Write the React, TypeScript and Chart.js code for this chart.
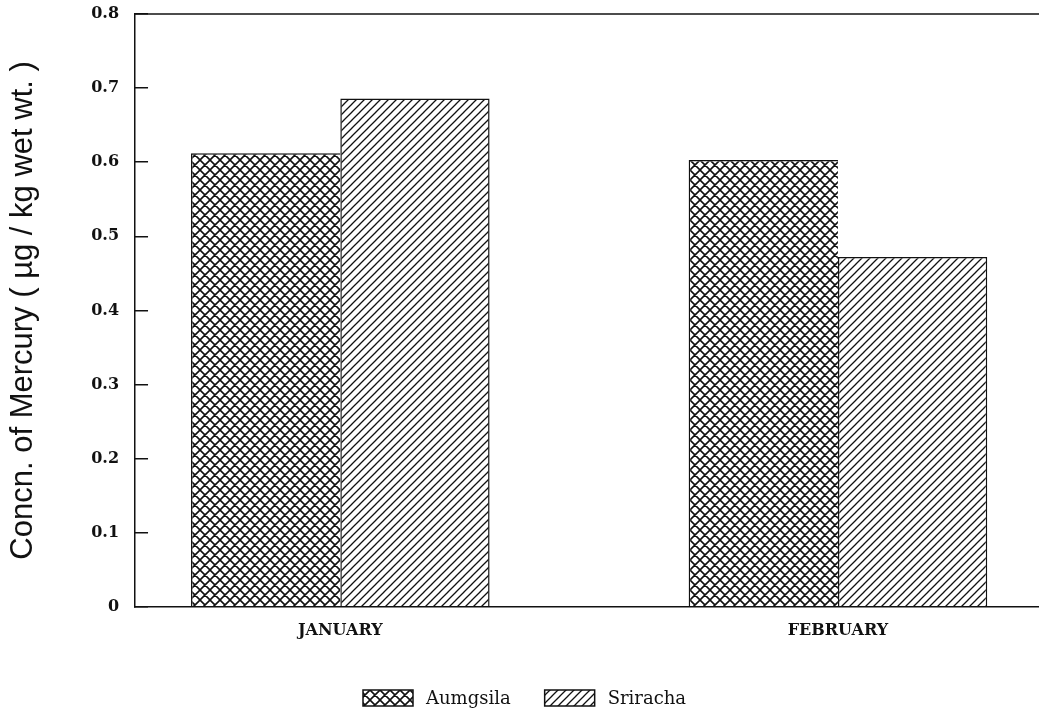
import React, { useEffect, useRef } from "react";
import { Chart, registerables } from "chart.js";

Chart.register(...registerables);

// ---- data ----
const MONTHS = ["JANUARY", "FEBRUARY"];
const SERIES_LABELS = ["Aumgsila", "Sriracha"];
const AUMGSILA = [0.612, 0.603];
const SRIRACHA = [0.686, 0.472];
const Y_MIN = 0;
const Y_MAX = 0.8;
const Y_STEP = 0.1;
const Y_TITLE = "Concn. of Mercury ( µg / kg wet wt. )";

// x-axis range (category positions 1 and 2)
const X_MIN = 0.5875;
const X_MAX = 2.404;

const INK = "#111";

function makePattern(kind: "cross" | "diag") {
  const T = kind === "cross" ? 10 : 8;
  const c = document.createElement("canvas");
  c.width = T;
  c.height = T;
  const g = c.getContext("2d")!;
  g.fillStyle = "#fff";
  g.fillRect(0, 0, T, T);
  g.strokeStyle = INK;
  g.lineWidth = kind === "cross" ? 1.6 : 1.3;
  g.beginPath();
  for (const o of [-T, 0, T]) {
    g.moveTo(o - 2, T + 2);
    g.lineTo(o + T + 2, -2);
    if (kind === "cross") {
      g.moveTo(o - 2, -2);
      g.lineTo(o + T + 2, T + 2);
    }
  }
  g.stroke();
  return g.createPattern(c, "repeat");
}

const topFrame = {
  id: "topFrame",
  afterDatasetsDraw(chart: any) {
    const { ctx, chartArea } = chart;
    ctx.save();
    ctx.strokeStyle = INK;
    ctx.lineWidth = 1.5;
    ctx.beginPath();
    ctx.moveTo(chartArea.left, chartArea.top);
    ctx.lineTo(chartArea.right, chartArea.top);
    ctx.stroke();
    ctx.restore();
  },
};

const hatchLegend = {
  id: "hatchLegend",
  afterDraw(chart: any) {
    const o = chart.options.plugins.hatchLegend;
    const ctx = chart.ctx as CanvasRenderingContext2D;
    let x = o.x;
    ctx.save();
    ctx.font = o.font;
    ctx.textBaseline = "middle";
    ctx.textAlign = "left";
    chart.data.datasets.forEach((ds: any) => {
      ctx.fillStyle = ds.backgroundColor;
      ctx.fillRect(x, o.y, o.boxW, o.boxH);
      ctx.strokeStyle = INK;
      ctx.lineWidth = 1.5;
      ctx.strokeRect(x, o.y, o.boxW, o.boxH);
      x += o.boxW + o.gap;
      ctx.fillStyle = INK;
      ctx.fillText(ds.label, x, o.y + o.boxH / 2 + 1);
      x += ctx.measureText(ds.label).width + o.itemGap;
    });
    ctx.restore();
  },
};

export default function App() {
  const ref = useRef<HTMLCanvasElement | null>(null);

  useEffect(() => {
    if (!ref.current) return;
    const cross = makePattern("cross");
    const diag = makePattern("diag");
    const tickFont = { family: "'DejaVu Serif', serif", size: 16, weight: "bold" as const };

    const chart = new Chart(ref.current, {
      type: "bar",
      data: {
        datasets: [
          {
            label: SERIES_LABELS[0],
            data: MONTHS.map((_, i) => ({ x: i + 1, y: AUMGSILA[i] })),
            backgroundColor: cross as any,
            borderColor: INK,
            borderWidth: { top: 1.5, left: 1.5, bottom: 1.5, right: 0 },
          },
          {
            label: SERIES_LABELS[1],
            data: MONTHS.map((_, i) => ({ x: i + 1, y: SRIRACHA[i] })),
            backgroundColor: diag as any,
            borderColor: INK,
            borderWidth: 1.5,
          },
        ],
      },
      options: {
        responsive: false,
        animation: false,
        barPercentage: 1,
        categoryPercentage: 0.6,
        layout: { padding: { top: 14, bottom: 62, left: 0, right: 0 } },
        plugins: {
          legend: { display: false },
          tooltip: { enabled: false },
          hatchLegend: {
            x: 363,
            y: 690,
            boxW: 50,
            boxH: 16,
            gap: 13,
            itemGap: 34,
            font: "18px 'DejaVu Serif', serif",
          },
        } as any,
        scales: {
          x: {
            type: "linear",
            position: "bottom",
            min: X_MIN,
            max: X_MAX,
            offset: false,
            afterBuildTicks: (s: any) => {
              s.ticks = MONTHS.map((_, i) => ({ value: i + 1 }));
            },
            ticks: {
              callback: (v: any) => MONTHS[Math.round(Number(v)) - 1] ?? "",
              font: tickFont,
              color: INK,
              padding: 14,
              autoSkip: false,
              maxRotation: 0,
            },
            grid: { display: true, drawOnChartArea: false, drawTicks: false },
            border: { display: true, color: INK, width: 1.5 },
          },
          y: {
            min: Y_MIN,
            max: Y_MAX,
            afterFit: (s: any) => {
              s.paddingTop = 0;
              s.paddingBottom = 0;
            },
            ticks: {
              stepSize: Y_STEP,
              font: tickFont,
              color: INK,
              padding: 29,
            },
            grid: {
              drawOnChartArea: false,
              drawTicks: true,
              tickLength: -13,
              color: INK,
              lineWidth: 1.5,
            },
            border: { display: true, color: INK, width: 1.5 },
            title: {
              display: true,
              text: Y_TITLE,
              color: INK,
              font: { family: "'Liberation Sans', Arial, sans-serif", size: 31 },
              padding: { top: 5, bottom: 20 },
            },
          },
        },
      } as any,
      plugins: [topFrame, hatchLegend],
    });
    return () => chart.destroy();
  }, []);

  return (
    <div style={{ position: "absolute", left: 0, top: 0, width: 1039, height: 716, background: "#fff" }}>
      <canvas ref={ref} width={1039} height={716} style={{ width: 1039, height: 716, display: "block" }} />
    </div>
  );
}
